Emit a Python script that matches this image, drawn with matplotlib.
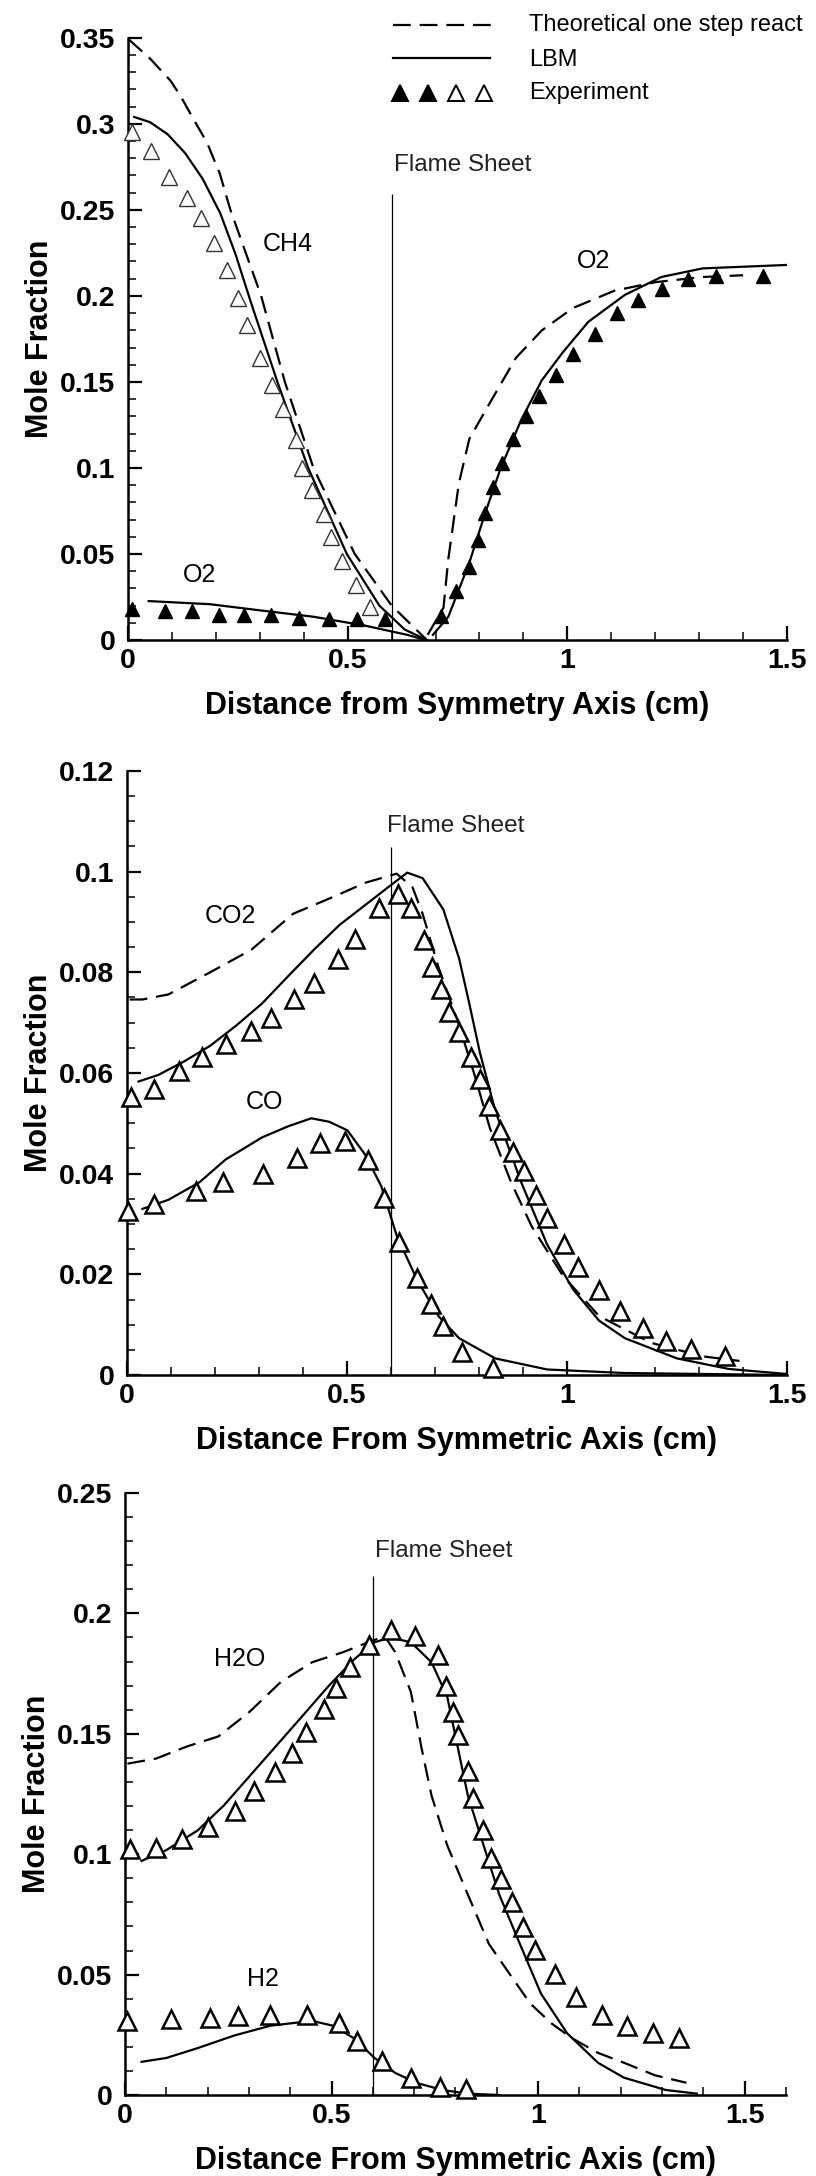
import matplotlib
matplotlib.use("Agg")
import matplotlib.pyplot as plt
from matplotlib.lines import Line2D
from matplotlib.ticker import MultipleLocator, FuncFormatter

plt.rcParams["font.family"] = ["Liberation Sans", "DejaVu Sans"]

FLAME_X = 0.6

# ---- panel 1: CH4 / O2 ----
ch4_exp_x = [0.01, 0.053, 0.093, 0.134, 0.167, 0.195, 0.226, 0.25, 0.271, 0.30, 0.327, 0.352,
             0.382, 0.396, 0.418, 0.446, 0.461, 0.487, 0.520, 0.551]
ch4_exp_y = [0.295, 0.284, 0.269, 0.257, 0.245, 0.231, 0.215, 0.199, 0.183, 0.164, 0.148, 0.134,
             0.116, 0.100, 0.087, 0.073, 0.060, 0.046, 0.032, 0.019]
o2_exp_x = [0.01, 0.084, 0.145, 0.207, 0.264, 0.325, 0.389, 0.457, 0.522, 0.585,
            0.713, 0.746, 0.775, 0.797, 0.812, 0.831, 0.852, 0.877, 0.905, 0.936, 0.973,
            1.013, 1.063, 1.112, 1.160, 1.216, 1.275, 1.339, 1.446]
o2_exp_y = [0.018, 0.017, 0.0166, 0.0148, 0.0148, 0.0143, 0.013, 0.0122, 0.012, 0.012,
            0.014, 0.0286, 0.0426, 0.058, 0.074, 0.089, 0.103, 0.117, 0.130, 0.142, 0.154,
            0.166, 0.178, 0.190, 0.1975, 0.204, 0.2097, 0.2115, 0.2115]
ch4_lbm_x = [0.014, 0.05, 0.09, 0.13, 0.17, 0.21, 0.245, 0.28, 0.34, 0.41, 0.498, 0.572, 0.63, 0.68]
ch4_lbm_y = [0.304, 0.301, 0.294, 0.283, 0.268, 0.248, 0.224, 0.196, 0.15, 0.1, 0.05, 0.02, 0.006, 0.0]
ch4_theo_x = [0.002, 0.05, 0.097, 0.12, 0.144, 0.18, 0.209, 0.233, 0.303, 0.357, 0.422, 0.516, 0.6, 0.68]
ch4_theo_y = [0.349, 0.338, 0.325, 0.316, 0.305, 0.289, 0.271, 0.25, 0.2, 0.15, 0.1, 0.05, 0.02, 0.0]
o2l_lbm_x = [0.047, 0.186, 0.304, 0.422, 0.54, 0.635, 0.67]
o2l_lbm_y = [0.0226, 0.0208, 0.0171, 0.0135, 0.0083, 0.003, 0.0005]
o2r_lbm_x = [0.694, 0.729, 0.777, 0.812, 0.847, 0.895, 0.942, 0.989, 1.048, 1.131, 1.214, 1.308, 1.5]
o2r_lbm_y = [0.003, 0.0135, 0.045, 0.073, 0.099, 0.128, 0.151, 0.167, 0.185, 0.2006, 0.211, 0.216, 0.218]
o2r_theo_x = [0.682, 0.718, 0.729, 0.753, 0.777, 0.824, 0.883, 0.942, 1.013, 1.107, 1.201, 1.308, 1.40]
o2r_theo_y = [0.003, 0.0187, 0.047, 0.091, 0.117, 0.138, 0.164, 0.18, 0.193, 0.203, 0.208, 0.211, 0.212]

# ---- panel 2: CO2 / CO ----
co2_exp_x = [0.009, 0.0625, 0.118, 0.171, 0.224, 0.281, 0.328, 0.380, 0.425, 0.479, 0.519, 0.573,
             0.616, 0.645, 0.675, 0.693, 0.713, 0.733, 0.755, 0.782, 0.802, 0.822, 0.847, 0.877,
             0.903, 0.929, 0.955, 0.994, 1.026, 1.073, 1.120, 1.173, 1.226, 1.282, 1.360]
co2_exp_y = [0.0552, 0.0568, 0.0603, 0.0632, 0.0657, 0.0683, 0.0709, 0.0746, 0.0778, 0.0827, 0.0867,
             0.0927, 0.0956, 0.0927, 0.0864, 0.0811, 0.0767, 0.0721, 0.0681, 0.0632, 0.0589, 0.0534,
             0.0486, 0.0444, 0.0406, 0.0357, 0.0312, 0.0261, 0.0215, 0.0169, 0.0128, 0.0094, 0.0068,
             0.0051, 0.0037]
co_exp_x = [0.002, 0.0625, 0.157, 0.218, 0.310, 0.387, 0.439, 0.495, 0.548, 0.584, 0.619, 0.660,
            0.691, 0.719, 0.762, 0.831]
co_exp_y = [0.0326, 0.0339, 0.0366, 0.0383, 0.0399, 0.0432, 0.046, 0.0465, 0.0428, 0.0352, 0.0265,
            0.0192, 0.0142, 0.0097, 0.0046, 0.0013]
co2_lbm_x = [0.026, 0.071, 0.13, 0.189, 0.248, 0.307, 0.366, 0.425, 0.483, 0.542, 0.601, 0.637, 0.672,
             0.719, 0.755, 0.778, 0.802, 0.837, 0.896, 0.955, 1.014, 1.073, 1.132, 1.25, 1.368, 1.5]
co2_lbm_y = [0.0583, 0.0596, 0.0623, 0.0654, 0.0694, 0.0738, 0.0792, 0.0845, 0.0894, 0.0934, 0.0974,
             0.0998, 0.0987, 0.0925, 0.0827, 0.0738, 0.0641, 0.0525, 0.0383, 0.0259, 0.017, 0.0108,
             0.0073, 0.0033, 0.0012, 0.0002]
co2_theo_x = [0.006, 0.035, 0.094, 0.189, 0.283, 0.377, 0.472, 0.542, 0.613, 0.649, 0.672, 0.708, 0.755,
              0.79, 0.825, 0.873, 0.92, 0.991, 1.073, 1.191, 1.309, 1.392]
co2_theo_y = [0.0746, 0.0746, 0.0756, 0.08, 0.0845, 0.0916, 0.0951, 0.0978, 0.0996, 0.0969, 0.0916,
              0.081, 0.0694, 0.0596, 0.049, 0.0383, 0.0295, 0.0197, 0.0117, 0.0064, 0.0037, 0.0028]
co_lbm_x = [0.035, 0.094, 0.165, 0.224, 0.307, 0.366, 0.419, 0.46, 0.501, 0.542, 0.578, 0.613, 0.66,
            0.708, 0.755, 0.837, 0.955, 1.13, 1.5]
co_lbm_y = [0.033, 0.0348, 0.0383, 0.0428, 0.0472, 0.0494, 0.051, 0.0503, 0.0486, 0.0437, 0.0375,
            0.0277, 0.0188, 0.0117, 0.0073, 0.0033, 0.0011, 0.0004, 0.0]

# ---- panel 3: H2O / H2 ----
h2o_exp_x = [0.0126, 0.0755, 0.138, 0.201, 0.267, 0.312, 0.362, 0.405, 0.438, 0.481, 0.510, 0.544,
             0.591, 0.644, 0.702, 0.757, 0.778, 0.795, 0.805, 0.830, 0.843, 0.866, 0.886, 0.909,
             0.937, 0.964, 0.992, 1.042, 1.092, 1.155, 1.216, 1.278, 1.340]
h2o_exp_y = [0.1021, 0.1027, 0.1062, 0.1115, 0.1181, 0.1263, 0.1341, 0.1419, 0.1506, 0.1602, 0.1691,
             0.1777, 0.1869, 0.1929, 0.1904, 0.1828, 0.170, 0.1592, 0.1493, 0.1346, 0.1233, 0.1099,
             0.0984, 0.0898, 0.0803, 0.0696, 0.0602, 0.0503, 0.0409, 0.0331, 0.0286, 0.0259, 0.0236]
h2_exp_x = [0.006, 0.111, 0.205, 0.274, 0.352, 0.440, 0.518, 0.561, 0.623, 0.692, 0.763, 0.825]
h2_exp_y = [0.0308, 0.0314, 0.0318, 0.0329, 0.0333, 0.0333, 0.0298, 0.0224, 0.014, 0.0072, 0.0033, 0.0025]
h2o_lbm_x = [0.04, 0.1, 0.176, 0.239, 0.302, 0.365, 0.428, 0.491, 0.554, 0.604, 0.642, 0.692, 0.742,
             0.78, 0.805, 0.83, 0.868, 0.906, 0.956, 1.007, 1.07, 1.145, 1.208, 1.309, 1.384]
h2o_lbm_y = [0.0972, 0.1017, 0.1099, 0.1202, 0.1325, 0.1448, 0.1571, 0.1695, 0.1808, 0.188, 0.19,
             0.188, 0.1797, 0.1654, 0.1448, 0.1243, 0.1037, 0.0832, 0.0627, 0.0421, 0.0257, 0.0134,
             0.0072, 0.0021, 0.0006]
h2o_theo_x = [0.006, 0.075, 0.151, 0.226, 0.302, 0.377, 0.453, 0.528, 0.604, 0.629, 0.654, 0.692,
              0.717, 0.742, 0.78, 0.83, 0.881, 0.931, 0.981, 1.032, 1.082, 1.145, 1.208, 1.283, 1.359]
h2o_theo_y = [0.1376, 0.1397, 0.1448, 0.1489, 0.1592, 0.1715, 0.1797, 0.1839, 0.189, 0.1904, 0.1839,
              0.1674, 0.1448, 0.1243, 0.1037, 0.0832, 0.0627, 0.0503, 0.038, 0.0298, 0.0236, 0.0175,
              0.0134, 0.0082, 0.0051]
h2_lbm_x = [0.04, 0.1, 0.176, 0.264, 0.352, 0.453, 0.503, 0.554, 0.604, 0.654, 0.705, 0.768, 0.83, 0.906]
h2_lbm_y = [0.0138, 0.0154, 0.0195, 0.0247, 0.0288, 0.0308, 0.0288, 0.0236, 0.0154, 0.0092, 0.0051,
            0.0021, 0.0006, 0.0]

legend_labels = ["Theoretical one step react", "LBM", "Experiment"]

DASH = (0, (8, 4))


def style_axes(ax, xmax, ymax, ymajor, yminor, xlabel):
    ax.set_xlim(0, xmax)
    ax.set_ylim(0, ymax)
    ax.xaxis.set_major_locator(MultipleLocator(0.5))
    ax.xaxis.set_minor_locator(MultipleLocator(0.1))
    ax.yaxis.set_major_locator(MultipleLocator(ymajor))
    ax.yaxis.set_minor_locator(MultipleLocator(yminor))
    fmt = FuncFormatter(lambda v, p: "%g" % round(v, 4))
    ax.xaxis.set_major_formatter(fmt)
    ax.yaxis.set_major_formatter(fmt)
    for s in ("top", "right"):
        ax.spines[s].set_visible(False)
    for s in ("left", "bottom"):
        ax.spines[s].set_linewidth(1.8)
    ax.tick_params(which="major", direction="in", length=10, width=1.6, labelsize=20.5)
    ax.tick_params(which="minor", direction="in", length=5.5, width=1.1)
    ax.tick_params(axis="y", which="major", pad=9)
    ax.tick_params(axis="x", which="major", pad=6)
    for lab in ax.get_xticklabels() + ax.get_yticklabels():
        lab.set_fontweight("bold")
    ax.set_xlabel(xlabel, fontsize=22, fontweight="bold", labelpad=12)
    ax.set_ylabel("Mole Fraction", fontsize=22, fontweight="bold", labelpad=4)


def flame_sheet(ax, top, tx, ty):
    ax.vlines(FLAME_X, 0, top, color="black", linewidth=0.9)
    ax.text(tx, ty, "Flame Sheet", fontsize=17.5, ha="left", va="center", color="#222222")


def open_tri(ax, x, y, ms=12.5, mew=1.8, color="black"):
    ax.plot(x, y, linestyle="none", marker="^", ms=ms, mfc="white", mec=color, mew=mew,
            clip_on=False, zorder=3)


def main():
    fig = plt.figure(figsize=(8.16, 21.76), dpi=100)

    # panel 1
    ax1 = fig.add_axes([0.1569, 0.7059, 0.8076, 0.2767])
    ax1.plot(ch4_theo_x, ch4_theo_y, color="black", lw=1.6, linestyle=DASH)
    ax1.plot(o2r_theo_x, o2r_theo_y, color="black", lw=1.6, linestyle=DASH)
    ax1.plot(ch4_lbm_x, ch4_lbm_y, color="black", lw=1.6)
    ax1.plot(o2l_lbm_x, o2l_lbm_y, color="black", lw=1.6)
    ax1.plot(o2r_lbm_x, o2r_lbm_y, color="black", lw=1.6)
    open_tri(ax1, ch4_exp_x, ch4_exp_y, ms=11, mew=1.0, color="#333333")
    ax1.plot(o2_exp_x, o2_exp_y, linestyle="none", marker="^", ms=10.5, color="black",
             clip_on=False, zorder=3)
    flame_sheet(ax1, 0.259, 0.606, 0.276)
    ax1.text(0.363, 0.23, "CH4", fontsize=18, ha="center", va="center")
    ax1.text(1.06, 0.22, "O2", fontsize=18, ha="center", va="center")
    ax1.text(0.162, 0.038, "O2", fontsize=18, ha="center", va="center")
    style_axes(ax1, 1.5, 0.35, 0.05, 0.01, "Distance from Symmetry Axis (cm)")

    # legend drawn by hand, sitting above the top panel
    W, H = 816.0, 2176.0
    fig.add_artist(Line2D([393 / W, 492 / W], [1 - 25 / H] * 2, color="black", lw=1.6, linestyle=DASH))
    fig.add_artist(Line2D([393 / W, 490 / W], [1 - 58 / H] * 2, color="black", lw=1.6))
    for i, px in enumerate([400, 428, 456, 484]):
        filled = i < 2
        fig.add_artist(Line2D([px / W], [1 - 93 / H], linestyle="none", marker="^", ms=11,
                              mfc="black" if filled else "white", mec="black", mew=1.4))
    for lab, py in zip(legend_labels, [25, 60, 93]):
        fig.text(529 / W, 1 - py / H, lab, fontsize=17, va="center")

    # panel 2
    ax2 = fig.add_axes([0.1556, 0.3681, 0.8088, 0.2776])
    ax2.plot(co2_theo_x, co2_theo_y, color="black", lw=1.6, linestyle=DASH)
    ax2.plot(co2_lbm_x, co2_lbm_y, color="black", lw=1.6)
    ax2.plot(co_lbm_x, co_lbm_y, color="black", lw=1.6)
    open_tri(ax2, co2_exp_x, co2_exp_y)
    open_tri(ax2, co_exp_x, co_exp_y)
    flame_sheet(ax2, 0.1049, 0.59, 0.109)
    ax2.text(0.236, 0.0911, "CO2", fontsize=18, ha="center", va="center")
    ax2.text(0.3125, 0.0543, "CO", fontsize=18, ha="center", va="center")
    style_axes(ax2, 1.5, 0.12, 0.02, 0.005, "Distance From Symmetric Axis (cm)")

    # panel 3
    ax3 = fig.add_axes([0.1532, 0.0372, 0.81, 0.2767])
    ax3.plot(h2o_theo_x, h2o_theo_y, color="black", lw=1.6, linestyle=DASH)
    ax3.plot(h2o_lbm_x, h2o_lbm_y, color="black", lw=1.6)
    ax3.plot(h2_lbm_x, h2_lbm_y, color="black", lw=1.6)
    open_tri(ax3, h2o_exp_x, h2o_exp_y)
    open_tri(ax3, h2_exp_x, h2_exp_y)
    flame_sheet(ax3, 0.2157, 0.604, 0.226)
    ax3.text(0.277, 0.181, "H2O", fontsize=18, ha="center", va="center")
    ax3.text(0.333, 0.0483, "H2", fontsize=18, ha="center", va="center")
    style_axes(ax3, 1.6, 0.25, 0.05, 0.01, "Distance From Symmetric Axis (cm)")

    fig.savefig("out.png", dpi=100)


if __name__ == "__main__":
    main()
